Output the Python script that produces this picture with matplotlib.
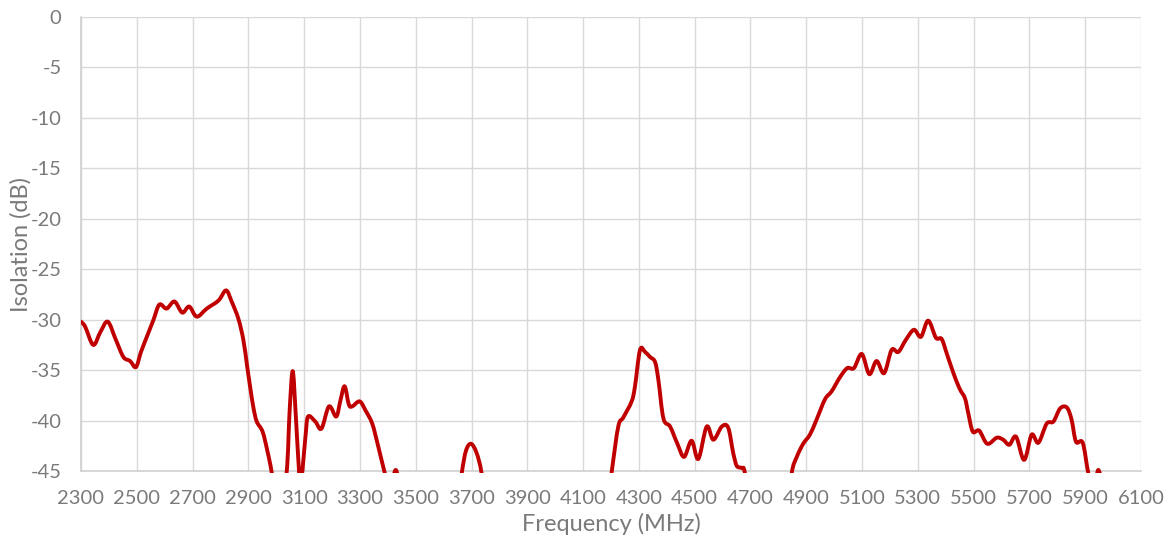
import numpy as np
import matplotlib
matplotlib.use("Agg")
import matplotlib.pyplot as plt
from matplotlib.path import Path
from matplotlib.patches import PathPatch, Rectangle

plt.rcParams['font.family'] = ['Lato', 'DejaVu Sans']
plt.rcParams['axes.unicode_minus'] = False

freq_mhz = [2300, 2315, 2344, 2370, 2396, 2425, 2452, 2476, 2497, 2515, 2536, 2560,
            2581, 2607, 2635, 2663, 2688, 2715, 2751, 2793, 2820, 2840, 2864, 2882,
            2895, 2906, 2918, 2930, 2951, 2968, 2984, 3010, 3037, 3048, 3059, 3070,
            3082, 3088, 3093, 3105, 3114, 3140, 3162, 3189, 3215, 3230, 3245, 3260,
            3272, 3299, 3320, 3344, 3365, 3389, 3408, 3428, 3448, 3500, 3640, 3665,
            3680, 3698, 3718, 3736, 3760, 4180, 4202, 4226, 4244, 4274, 4286, 4304,
            4322, 4340, 4358, 4370, 4388, 4412, 4438, 4462, 4489, 4513, 4543, 4567,
            4597, 4620, 4638, 4651, 4668, 4680, 4700, 4830, 4848, 4866, 4889, 4913,
            4937, 4967, 4991, 5021, 5047, 5071, 5099, 5126, 5152, 5179, 5206, 5230,
            5257, 5286, 5311, 5337, 5365, 5385, 5403, 5425, 5449, 5469, 5481, 5497,
            5520, 5549, 5583, 5606, 5628, 5652, 5681, 5708, 5732, 5762, 5786, 5810,
            5834, 5851, 5867, 5891, 5911, 5930, 5947, 5965]
isolation_db = [-30.2, -30.7, -32.5, -31.2, -30.2, -32.0, -33.7, -34.1, -34.7, -33.2, -31.7, -30.0,
                -28.5, -28.9, -28.2, -29.3, -28.7, -29.7, -28.9, -28.1, -27.1, -28.2, -29.9, -32.0,
                -34.5, -36.6, -38.7, -40.1, -41.1, -43.0, -45.2, -50.0, -45.2, -39.0, -35.1, -39.5,
                -45.2, -46.0, -45.2, -41.5, -39.6, -40.1, -40.8, -38.6, -39.6, -38.0, -36.6, -38.4,
                -38.6, -38.1, -39.0, -40.3, -42.5, -45.2, -47.0, -44.9, -47.0, -50.0, -50.0, -45.2,
                -43.0, -42.3, -43.2, -45.2, -50.0, -50.0, -45.2, -40.6, -39.7, -38.1, -36.6, -33.0,
                -33.2, -33.7, -34.2, -36.0, -39.8, -40.6, -42.3, -43.6, -42.0, -43.8, -40.6, -41.9,
                -40.6, -40.7, -43.2, -44.5, -44.7, -45.2, -50.0, -50.0, -45.2, -43.6, -42.3, -41.4,
                -39.9, -37.9, -37.1, -35.7, -34.8, -34.8, -33.4, -35.4, -34.1, -35.3, -33.0, -33.2,
                -32.0, -31.0, -31.7, -30.1, -31.8, -31.9, -33.3, -35.1, -36.8, -37.8, -39.3, -41.1,
                -41.0, -42.3, -41.7, -41.9, -42.4, -41.6, -43.9, -41.4, -42.2, -40.3, -40.1, -38.8,
                -38.7, -39.9, -42.1, -42.2, -45.2, -47.0, -44.9, -47.0]

x_ticks = list(range(2300, 6101, 200))
y_ticks = list(range(-45, 1, 5))

text_color = '#7a7a7a'

fig = plt.figure(figsize=(11.7, 5.42), dpi=100)
ax = fig.add_axes([81/1170, 71/542, 1060/1170, 454/542])
ax.set_xlim(2300, 6100)
ax.set_ylim(-45, 0)

# smoothed line (Excel-style Catmull-Rom Bezier through the data points)
x = np.asarray(freq_mhz, float)
y = np.asarray(isolation_db, float)
verts = [(x[0], y[0])]
codes = [Path.MOVETO]
n = len(x)
for i in range(n - 1):
    p0 = (x[i - 1], y[i - 1]) if i > 0 else (x[i], y[i])
    p1 = (x[i], y[i])
    p2 = (x[i + 1], y[i + 1])
    p3 = (x[i + 2], y[i + 2]) if i + 2 < n else (x[i + 1], y[i + 1])
    c1 = (p1[0] + (p2[0] - p0[0]) / 6, p1[1] + (p2[1] - p0[1]) / 6)
    c2 = (p2[0] - (p3[0] - p1[0]) / 6, p2[1] - (p3[1] - p1[1]) / 6)
    verts += [c1, c2, p2]
    codes += [Path.CURVE4] * 3
patch = PathPatch(Path(verts, codes), facecolor='none', edgecolor='#C00000',
                  linewidth=2.8, joinstyle='round', capstyle='round', zorder=3)
ax.add_patch(patch)
clip = Rectangle((0, -0.005), 1, 1.005, transform=ax.transAxes,
                 facecolor='none', edgecolor='none')
ax.add_patch(clip)
patch.set_clip_path(clip)

ax.set_xticks(x_ticks)
ax.set_yticks(y_ticks)
ax.grid(True, color='#d9d9d9', linewidth=1.0)
ax.set_axisbelow(True)
for s in ['top', 'right']:
    ax.spines[s].set_visible(False)
for s in ['left', 'bottom']:
    ax.spines[s].set_color('#d0d0d0')
    ax.spines[s].set_linewidth(1.2)
ax.tick_params(axis='both', length=0, labelsize=14.5, colors=text_color)
ax.tick_params(axis='x', pad=14)
ax.tick_params(axis='y', pad=14)
ax.set_xlabel('Frequency (MHz)', fontsize=17, color=text_color, labelpad=4)
ax.set_ylabel('Isolation (dB)', fontsize=17, color=text_color)
ax.yaxis.set_label_coords(-0.0465, 0.5)

fig.savefig('out.png', dpi=100)
